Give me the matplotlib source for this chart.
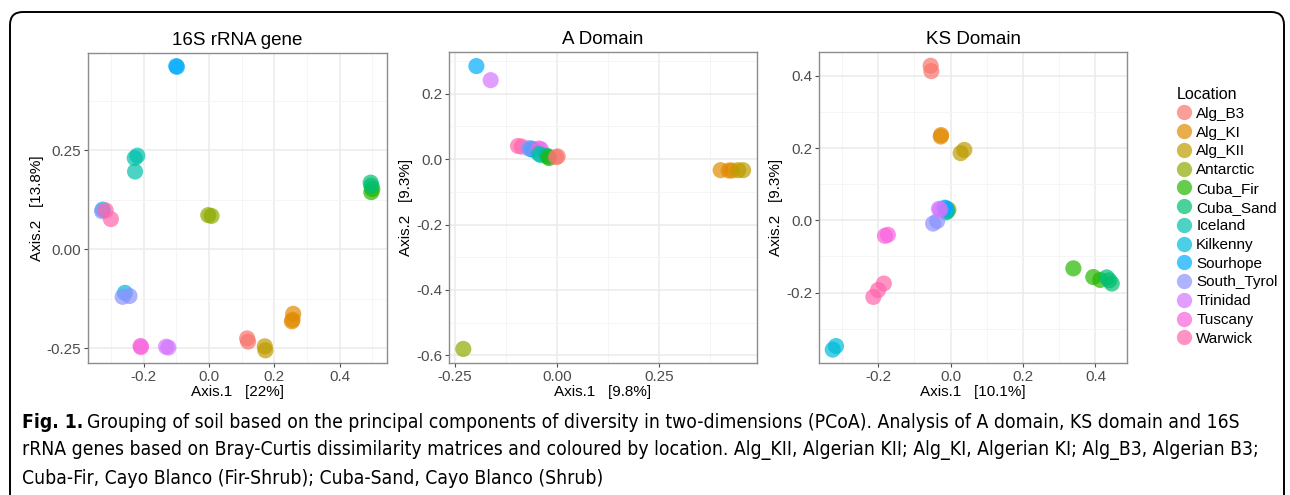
import matplotlib
matplotlib.use("Agg")
import matplotlib.pyplot as plt
from matplotlib.lines import Line2D
from matplotlib.patches import FancyBboxPatch
from matplotlib.ticker import MultipleLocator, FormatStrFormatter

plt.rcParams["font.family"] = ["Liberation Sans", "DejaVu Sans"]

# ggplot hue palette for the 13 locations
locations = ["Alg_B3", "Alg_KI", "Alg_KII", "Antarctic", "Cuba_Fir", "Cuba_Sand", "Iceland",
             "Kilkenny", "Sourhope", "South_Tyrol", "Trinidad", "Tuscany", "Warwick"]
colors = ["#F8766D", "#E18A00", "#BE9C00", "#8CAB00", "#24B700", "#00BE70", "#00C1AB",
          "#00BBDA", "#00ACFC", "#8B93FF", "#D575FE", "#F962DD", "#FF65AC"]

# 16S rRNA gene
s16_loc = ["Alg_B3", "Alg_B3", "Alg_KI", "Alg_KI", "Alg_KI", "Alg_KII", "Alg_KII",
           "Antarctic", "Antarctic", "Cuba_Fir", "Cuba_Fir", "Cuba_Sand", "Cuba_Sand",
           "Iceland", "Iceland", "Iceland", "Kilkenny", "Kilkenny", "Sourhope", "Sourhope",
           "South_Tyrol", "South_Tyrol", "South_Tyrol", "Trinidad", "Trinidad",
           "Tuscany", "Tuscany", "Warwick", "Warwick"]
s16_x = [0.117, 0.120, 0.258, 0.256, 0.254, 0.171, 0.173,
         -0.002, 0.008, 0.500, 0.497, 0.495, 0.497,
         -0.227, -0.219, -0.226, -0.325, -0.257, -0.100, -0.098,
         -0.327, -0.264, -0.243, -0.131, -0.124,
         -0.209, -0.208, -0.300, -0.316]
s16_y = [-0.225, -0.233, -0.163, -0.178, -0.182, -0.245, -0.255,
         0.086, 0.084, 0.152, 0.144, 0.168, 0.160,
         0.230, 0.236, 0.196, 0.100, -0.110, 0.462, 0.460,
         0.096, -0.120, -0.118, -0.246, -0.248,
         -0.244, -0.247, 0.076, 0.098]

# A domain
a_loc = ["Sourhope", "Trinidad", "Antarctic", "Warwick", "Warwick", "Kilkenny", "Kilkenny",
         "Sourhope", "South_Tyrol", "Trinidad", "Tuscany", "Iceland", "Iceland",
         "Cuba_Sand", "Cuba_Sand", "Cuba_Fir", "Alg_B3", "Alg_B3",
         "Alg_KI", "Alg_KI", "Alg_KI", "Alg_KII", "Alg_KII"]
a_x = [-0.198, -0.163, -0.230, -0.096, -0.087, -0.065, -0.058,
       -0.062, -0.070, -0.040, -0.045, -0.045, -0.040,
       -0.022, -0.025, -0.020, 0.001, -0.003,
       0.400, 0.420, 0.428, 0.443, 0.455]
a_y = [0.284, 0.241, -0.580, 0.040, 0.038, 0.030, 0.028,
       0.032, 0.033, 0.030, 0.032, 0.016, 0.012,
       0.007, 0.010, 0.003, 0.008, 0.006,
       -0.034, -0.035, -0.035, -0.034, -0.034]

# KS domain
ks_loc = ["Alg_B3", "Alg_B3", "Alg_KI", "Alg_KI", "Alg_KII", "Alg_KII",
          "Antarctic", "Antarctic", "Cuba_Fir", "Cuba_Fir", "Cuba_Fir",
          "Cuba_Sand", "Cuba_Sand", "Cuba_Sand", "Iceland", "Iceland",
          "Kilkenny", "Kilkenny", "Sourhope", "Sourhope", "South_Tyrol", "South_Tyrol",
          "Trinidad", "Trinidad", "Tuscany", "Tuscany", "Warwick", "Warwick", "Warwick"]
ks_x = [-0.055, -0.053, -0.027, -0.026, 0.028, 0.038,
        -0.006, -0.008, 0.339, 0.394, 0.413,
        0.431, 0.438, 0.445, -0.012, -0.010,
        -0.316, -0.325, -0.016, -0.012, -0.048, -0.037,
        -0.032, -0.028, -0.181, -0.173, -0.184, -0.200, -0.213]
ks_y = [0.428, 0.413, 0.232, 0.236, 0.186, 0.195,
        0.030, 0.026, -0.133, -0.157, -0.165,
        -0.158, -0.166, -0.175, 0.022, 0.026,
        -0.348, -0.358, 0.035, 0.033, -0.009, -0.002,
        0.032, 0.030, -0.043, -0.040, -0.175, -0.193, -0.212]

caption_lines = [
    "Grouping of soil based on the principal components of diversity in two-dimensions (PCoA). Analysis of A domain, KS domain and 16S",
    "rRNA genes based on Bray-Curtis dissimilarity matrices and coloured by location. Alg_KII, Algerian KII; Alg_KI, Algerian KI; Alg_B3, Algerian B3;",
    "Cuba-Fir, Cayo Blanco (Fir-Shrub); Cuba-Sand, Cayo Blanco (Shrub)",
]

col = dict(zip(locations, colors))
W, H = 1290, 495
fig = plt.figure(figsize=(W / 100, H / 100), dpi=100)
fig.patch.set_facecolor("white")

panels = [
    ("16S rRNA gene", s16_loc, s16_x, s16_y, "Axis.1   [22%]", "Axis.2   [13.8%]",
     [88, 53, 387, 363], (-0.370, 0.545), (-0.287, 0.495), 0.2, 0.25, "%.1f", "%.2f"),
    ("A Domain", a_loc, a_x, a_y, "Axis.1   [9.8%]", "Axis.2   [9.3%]",
     [449, 52, 757, 363], (-0.265, 0.489), (-0.623, 0.327), 0.25, 0.2, "%.2f", "%.1f"),
    ("KS Domain", ks_loc, ks_x, ks_y, "Axis.1   [10.1%]", "Axis.2   [9.3%]",
     [819, 52, 1127, 363], (-0.363, 0.487), (-0.395, 0.466), 0.2, 0.2, "%.1f", "%.1f"),
]

for title, loc, xs, ys, xl, yl, box, xlim, ylim, xstep, ystep, xfmt, yfmt in panels:
    x0, y0, x1, y1 = box
    ax = fig.add_axes([x0 / W, 1 - y1 / H, (x1 - x0) / W, (y1 - y0) / H])
    ax.scatter(xs, ys, c=[col[l] for l in loc], s=135, alpha=0.7, linewidths=0, zorder=3)
    ax.set_xlim(*xlim)
    ax.set_ylim(*ylim)
    ax.xaxis.set_major_locator(MultipleLocator(xstep))
    ax.xaxis.set_minor_locator(MultipleLocator(xstep / 2))
    ax.yaxis.set_major_locator(MultipleLocator(ystep))
    ax.yaxis.set_minor_locator(MultipleLocator(ystep / 2))
    ax.xaxis.set_major_formatter(FormatStrFormatter(xfmt))
    ax.yaxis.set_major_formatter(FormatStrFormatter(yfmt))
    ax.grid(which="major", color="#EBEBEB", lw=1.1, zorder=0)
    ax.grid(which="minor", color="#F4F4F4", lw=0.6, zorder=0)
    ax.tick_params(which="major", length=3, width=0.8, color="#4D4D4D",
                   labelsize=11, labelcolor="#4D4D4D", pad=2)
    ax.tick_params(which="minor", length=0)
    for s in ax.spines.values():
        s.set_color("#8C8C8C")
        s.set_linewidth(1.0)
    ax.set_title(title, fontsize=13.5, pad=6)
    ax.set_xlabel(xl, fontsize=11, labelpad=1)
    ax.set_ylabel(yl, fontsize=11, labelpad=2)
    ax.set_axisbelow(True)

# legend
handles = [Line2D([], [], ls="", marker="o", ms=11, mew=0, mfc=c, alpha=0.7) for c in colors]
fig.legend(handles, locations, title="Location", loc="upper left",
           bbox_to_anchor=(1171 / W, 1 - 81 / H), frameon=False, fontsize=11,
           title_fontsize=11.5, labelspacing=0.31, handlelength=0.9, handletextpad=0.35,
           borderaxespad=0, alignment="left")

# caption, sized so that the first line spans the same width as in the figure
cap_font = ["DejaVu Sans"]
fs = 12.0
fig.canvas.draw()
r = fig.canvas.get_renderer()
probe = fig.text(0, 0, "Fig. 1. " + caption_lines[0], fontsize=fs, family=cap_font,
                 fontstretch="condensed")
wpx = probe.get_window_extent(r).width
probe.remove()
fs = fs * 1211 / wpx

t = fig.text(22 / W, 1 - 422 / H, "Fig. 1.", fontsize=fs, fontweight="bold",
             family=cap_font, fontstretch="condensed", va="center", ha="left")
bb = t.get_window_extent(r)
fig.text((bb.x1 + 4) / W, 1 - 422 / H, caption_lines[0], fontsize=fs,
         family=cap_font, fontstretch="condensed", va="center", ha="left")
fig.text(22 / W, 1 - 450 / H, caption_lines[1], fontsize=fs, family=cap_font,
         fontstretch="condensed", va="center", ha="left")
fig.text(22 / W, 1 - 478 / H, caption_lines[2], fontsize=fs, family=cap_font,
         fontstretch="condensed", va="center", ha="left")

# rounded frame
frame = FancyBboxPatch((10 / W, -0.05), 1274 / W, 1 - 12 / H + 0.05,
                       boxstyle="round,pad=0,rounding_size=0.01",
                       transform=fig.transFigure, fill=False, ec="black", lw=1.4,
                       clip_on=False, mutation_aspect=W / H)
fig.patches.append(frame)

fig.savefig("out.png", dpi=100)
